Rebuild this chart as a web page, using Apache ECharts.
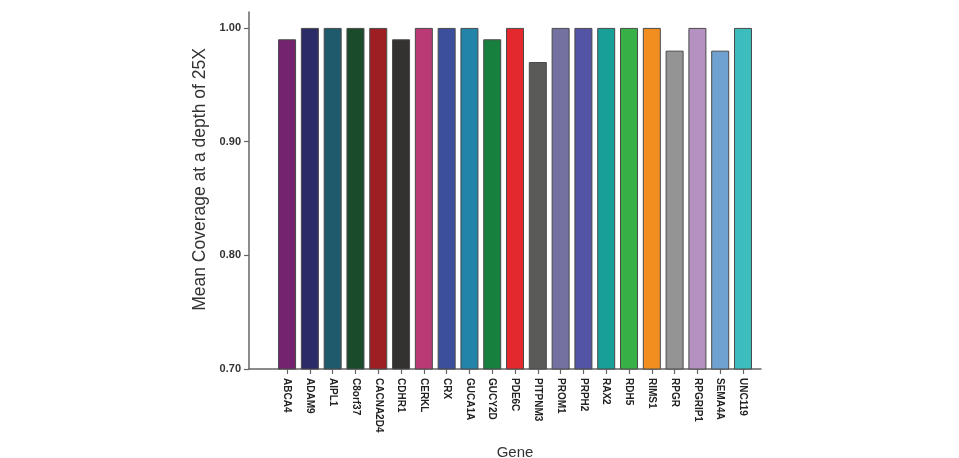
<!DOCTYPE html>
<html>
<head>
<meta charset="utf-8">
<script src="https://cdn.jsdelivr.net/npm/echarts@6/dist/echarts.min.js"></script>
<style>html,body{margin:0;padding:0;background:#fff;}#c{width:959px;height:458px;}</style>
</head>
<body>
<div id="c"></div>
<script>
const genes = ['ABCA4','ADAM9','AIPL1','C8orf37','CACNA2D4','CDHR1','CERKL','CRX','GUCA1A','GUCY2D','PDE6C','PITPNM3','PROM1','PRPH2','RAX2','RDH5','RIMS1','RPGR','RPGRIP1','SEMA4A','UNC119'];
const coverage = [0.99,1.00,1.00,1.00,1.00,0.99,1.00,1.00,1.00,0.99,1.00,0.97,1.00,1.00,1.00,1.00,1.00,0.98,1.00,0.98,1.00];
const colors = ['#74246f','#2b2b67','#1f5a6c','#1a4c2b','#9e1f23','#333230','#b93a75','#3b4f9d','#2284a8','#17803f','#e3282e','#5a5a58','#7471a0','#5354a3','#16a097','#37b045','#f28e1f','#949494','#b491c0','#6fa2d0','#3cbcbd'];
const yTicks = [0.70,0.80,0.90,1.00];

const chart = echarts.init(document.getElementById('c'), null, {renderer:'canvas'});
const tickIdx = genes.map((g,i)=>i);
chart.setOption({
  animation:false,
  backgroundColor:'#fff',
  grid:{left:249,right:198,top:12,bottom:89,containLabel:false,outerBoundsMode:'none'},
  xAxis:{
    type:'value', min:-1.67, max:20.79,
    name:'Gene', nameLocation:'middle', nameGap:76,
    nameTextStyle:{fontFamily:'Liberation Sans',fontSize:15,color:'#333',padding:[0,0,0,20]},
    axisLine:{show:true,onZero:false,lineStyle:{color:'#666',width:1.5}},
    axisTick:{show:true,length:5,lineStyle:{color:'#666',width:1.2},customValues:tickIdx},
    axisLabel:{show:true,rotate:-90,margin:9,fontFamily:'Liberation Sans',fontWeight:'bold',fontSize:10,color:'#222',
      customValues:tickIdx, formatter:(v)=>genes[Math.round(v)]||''},
    splitLine:{show:false}
  },
  yAxis:{
    type:'value', min:0.7, max:1.014,
    name:'Mean Coverage at a depth of 25X', nameLocation:'middle', nameGap:37,
    nameTextStyle:{fontFamily:'Liberation Sans',fontSize:17.5,color:'#333',padding:[0,0,0,22]},
    axisLine:{show:true,onZero:false,lineStyle:{color:'#666',width:1.5}},
    axisTick:{show:true,length:5,lineStyle:{color:'#666',width:1.2},customValues:yTicks},
    axisLabel:{show:true,margin:8,fontFamily:'Liberation Sans',fontWeight:'bold',fontSize:11,color:'#333',
      customValues:yTicks, formatter:(v)=>v.toFixed(2)},
    splitLine:{show:false}
  },
  series:[{
    type:'bar',
    barWidth:18,
    data:genes.map((g,i)=>({value:[i,coverage[i]],itemStyle:{color:colors[i]}})),
    itemStyle:{borderColor:'#4a4a4a',borderWidth:1}
  }]
});
</script>
</body>
</html>
